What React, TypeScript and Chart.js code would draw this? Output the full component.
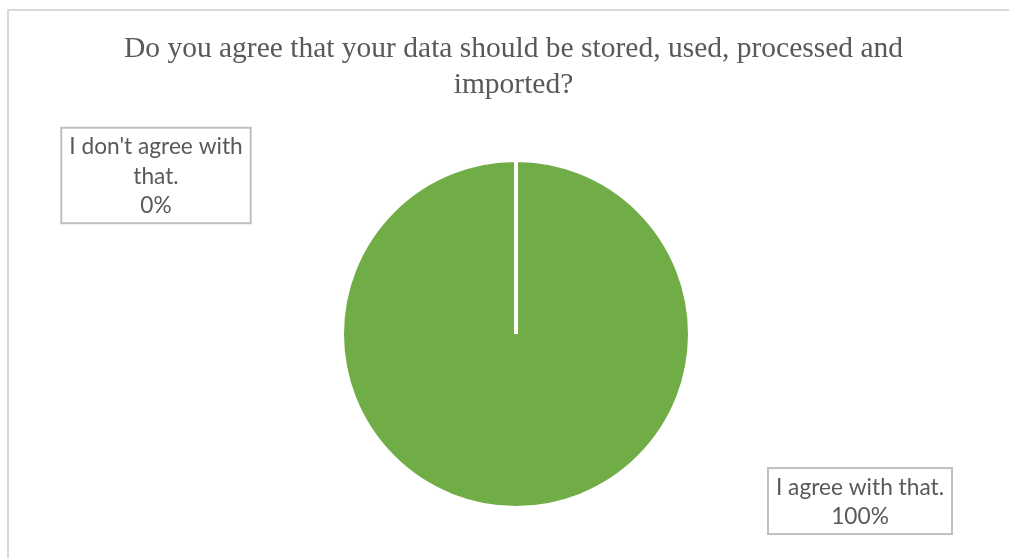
import React, { useEffect, useRef } from "react";
import { Chart, registerables } from "chart.js";

Chart.register(...registerables);

const titleLines = [
  "Do you agree that your data should be stored, used, processed and",
  "imported?",
];
const categories = ["I don't agree with that.", "I agree with that."];
const values = [0, 100];
const sliceColors = ["#4472C4", "#70AD47"];
// label box anchors, expressed relative to pie centre in units of pie radius
const labelAnchorsX = [-2.069, 1.977];
const labelAnchorsY = [-0.911, 0.96];

const TEXT_COLOR = "#595959";
const LABEL_FONT = "22.7px Lato, 'Liberation Sans', sans-serif";
const TITLE_FONT = "29.5px 'Liberation Serif', 'Times New Roman', serif";

function wrap(ctx: CanvasRenderingContext2D, text: string, maxW: number): string[] {
  const words = text.split(" ");
  const lines: string[] = [];
  let cur = "";
  for (const w of words) {
    const t = cur ? cur + " " + w : w;
    if (ctx.measureText(t).width > maxW && cur) {
      lines.push(cur);
      cur = w;
    } else cur = t;
  }
  if (cur) lines.push(cur);
  return lines;
}

const decorPlugin = {
  id: "decor",
  beforeDraw(chart: any) {
    const ctx = chart.ctx as CanvasRenderingContext2D;
    ctx.save();
    ctx.fillStyle = "#FFFFFF";
    ctx.fillRect(0, 0, chart.width, chart.height);
    ctx.strokeStyle = "#D9D9D9";
    ctx.lineWidth = 2;
    ctx.beginPath();
    ctx.moveTo(8, chart.height);
    ctx.lineTo(8, 10);
    ctx.lineTo(chart.width, 10);
    ctx.stroke();
    ctx.restore();
  },
  afterDraw(chart: any) {
    const ctx = chart.ctx as CanvasRenderingContext2D;
    const arc = chart.getDatasetMeta(0).data[1];
    const cx = arc.x;
    const cy = arc.y;
    const r = arc.outerRadius;
    ctx.save();
    // title
    ctx.font = TITLE_FONT;
    ctx.fillStyle = TEXT_COLOR;
    ctx.textAlign = "center";
    ctx.textBaseline = "alphabetic";
    const titleX = chart.width / 2 + 9;
    titleLines.forEach((l, i) => ctx.fillText(l, titleX, 57 + i * 36));

    // data labels
    const total = values.reduce((a, b) => a + b, 0);
    ctx.font = LABEL_FONT;
    const lineH = 29.5;
    const padY = 3.5;
    categories.forEach((cat, i) => {
      const pct = Math.round((values[i] / total) * 100) + "%";
      const lines = [...wrap(ctx, cat, 185), pct];
      const maxW = Math.max(...lines.map((l) => ctx.measureText(l).width));
      const bw = maxW + 16;
      const bh = lines.length * lineH + padY * 2;
      const bx = cx + labelAnchorsX[i] * r - bw / 2;
      const by = cy + labelAnchorsY[i] * r - bh / 2;
      ctx.fillStyle = "#FFFFFF";
      ctx.fillRect(bx, by, bw, bh);
      ctx.strokeStyle = "#BFBFBF";
      ctx.lineWidth = 2;
      ctx.strokeRect(bx, by, bw, bh);
      ctx.fillStyle = TEXT_COLOR;
      ctx.textAlign = "center";
      ctx.textBaseline = "middle";
      lines.forEach((l, j) => {
        ctx.fillText(l, bx + bw / 2, by + padY + lineH * (j + 0.5) + 1);
      });
    });
    ctx.restore();
  },
};

export default function App() {
  const ref = useRef<HTMLCanvasElement>(null);
  useEffect(() => {
    if (!ref.current) return;
    const chart = new Chart(ref.current, {
      type: "pie",
      data: {
        labels: categories,
        datasets: [
          {
            data: values,
            backgroundColor: sliceColors,
            borderColor: "#FFFFFF",
            borderWidth: 4,
          },
        ],
      },
      options: {
        responsive: false,
        animation: false,
        events: [],
        layout: { padding: { top: 158, bottom: 48, left: 200, right: 177 } },
        plugins: {
          legend: { display: false },
          title: { display: false },
          tooltip: { enabled: false },
        },
      },
      plugins: [decorPlugin],
    });
    return () => chart.destroy();
  }, []);
  return (
    <div style={{ position: "fixed", left: 0, top: 0, width: 1009, height: 558, overflow: "hidden", background: "#fff" }}>
      <canvas ref={ref} width={1009} height={558} style={{ width: 1009, height: 558, display: "block" }} />
    </div>
  );
}
